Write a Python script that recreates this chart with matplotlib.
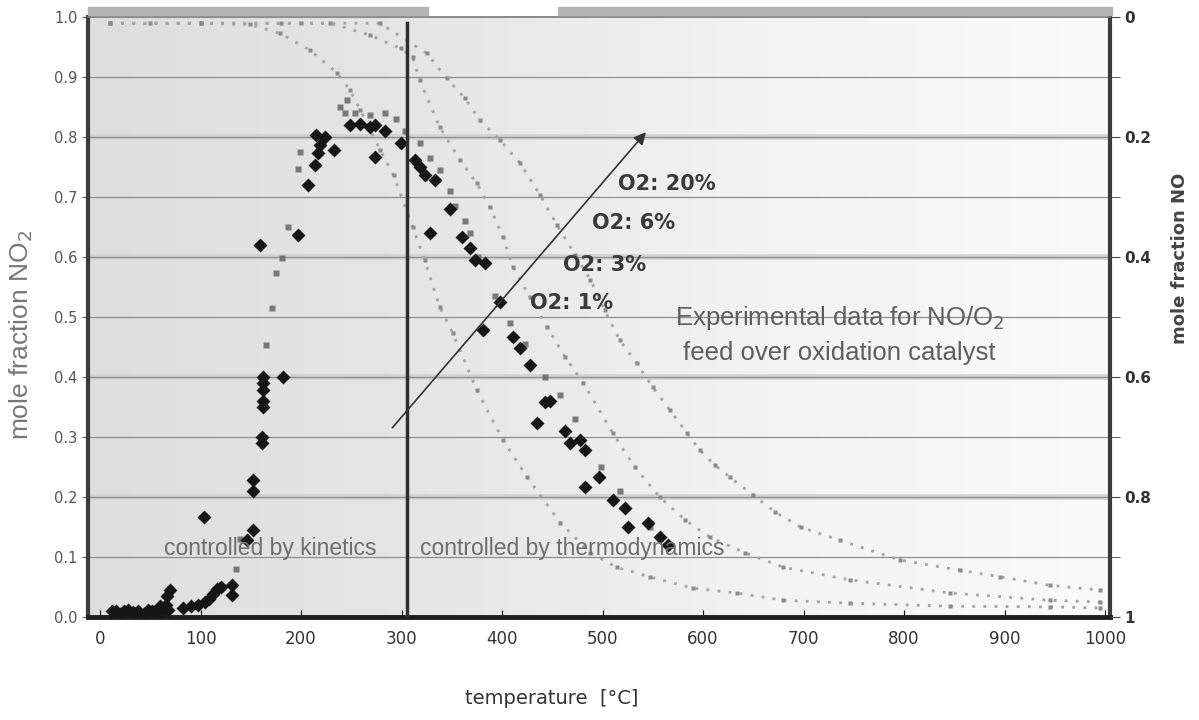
import numpy as np
import matplotlib
matplotlib.use('Agg')
import matplotlib.pyplot as plt
from matplotlib.colors import LinearSegmentedColormap
from matplotlib.patches import Rectangle

# experimental NO2 mole fraction (large black diamonds)
exp_T = [12, 16, 20, 24, 28, 33, 38, 44, 48, 52, 55, 58, 60, 62, 64, 66, 68, 60, 67, 70,
         83, 90, 97, 104, 108, 112, 116, 120, 131, 131,
         103, 146, 152, 152, 152, 161, 161, 162, 162, 162, 162, 162, 182,
         159, 197,
         207, 214, 217, 219, 233, 215, 224,
         249, 259, 269, 284, 274, 274, 299,
         313, 318, 323, 333, 348, 328, 360, 368, 373, 383, 398, 381, 411, 418, 428,
         443, 448, 435, 463, 468, 478, 483, 496, 483, 510, 522, 525, 545, 557, 565]
exp_no2 = [0.01, 0.01, 0.005, 0.01, 0.012, 0.008, 0.01, 0.005, 0.012, 0.01, 0.006, 0.012, 0.018, 0.01, 0.015, 0.02, 0.012, -0.008, 0.035, 0.045,
           0.015, 0.018, 0.02, 0.025, 0.03, 0.038, 0.046, 0.05, 0.053, 0.037,
           0.167, 0.128, 0.145, 0.228, 0.21, 0.29, 0.30, 0.35, 0.36, 0.378, 0.39, 0.40, 0.40,
           0.62, 0.637,
           0.72, 0.753, 0.773, 0.787, 0.778, 0.803, 0.80,
           0.82, 0.822, 0.817, 0.81, 0.82, 0.767, 0.79,
           0.762, 0.75, 0.737, 0.728, 0.68, 0.64, 0.633, 0.615, 0.595, 0.59, 0.525, 0.478, 0.467, 0.448, 0.42,
           0.358, 0.36, 0.323, 0.31, 0.29, 0.295, 0.278, 0.233, 0.217, 0.195, 0.182, 0.15, 0.157, 0.133, 0.12]

# second experimental set (small grey marks)
exp2_T = [135, 139, 165, 171, 175, 181, 187, 197, 199, 239, 244, 246, 254, 269, 284, 294,
          303, 318, 328, 338, 348, 353, 363, 368, 376, 393, 408, 423, 443, 458, 473, 498, 517, 547]
exp2_no2 = [0.08, 0.13, 0.453, 0.515, 0.573, 0.598, 0.65, 0.747, 0.775, 0.85, 0.84, 0.862, 0.84, 0.837, 0.84, 0.83,
            0.81, 0.79, 0.765, 0.745, 0.71, 0.685, 0.66, 0.64, 0.60, 0.535, 0.49, 0.455, 0.40, 0.37, 0.33, 0.25, 0.21, 0.15]

# equilibrium curves (dotted)
eq1_T = [10, 50, 100, 149, 179, 209, 236, 249, 259, 279, 292, 311, 323, 338, 351, 375, 401, 425,
         458, 488, 514, 547, 590, 634, 680, 746, 846, 945, 995]
eq1_no2 = [0.99, 0.99, 0.99, 0.988, 0.973, 0.945, 0.907, 0.878, 0.845, 0.778, 0.737, 0.65, 0.595, 0.517,
           0.473, 0.378, 0.295, 0.233, 0.157, 0.107, 0.083, 0.067, 0.048, 0.04, 0.028, 0.023, 0.018, 0.017, 0.015]
eq2_T = [10, 100, 180, 229, 269, 299, 311, 318, 338, 358, 375, 388, 401, 411, 428, 445, 463, 481,
         510, 532, 557, 582, 607, 642, 680, 746, 846, 945, 995]
eq2_no2 = [0.99, 0.99, 0.99, 0.99, 0.97, 0.948, 0.933, 0.895, 0.817, 0.762, 0.723, 0.683, 0.633, 0.583,
           0.533, 0.483, 0.433, 0.39, 0.307, 0.25, 0.2, 0.162, 0.133, 0.107, 0.083, 0.062, 0.04, 0.028, 0.025]
eq3_T = [10, 100, 200, 279, 325, 345, 363, 378, 398, 418, 438, 455, 473, 488, 502, 517, 534, 550,
         567, 584, 597, 612, 627, 650, 672, 697, 736, 796, 856, 896, 945, 995]
eq3_no2 = [0.99, 0.99, 0.99, 0.99, 0.94, 0.898, 0.865, 0.828, 0.795, 0.757, 0.703, 0.653, 0.603, 0.562,
           0.512, 0.462, 0.423, 0.383, 0.345, 0.307, 0.278, 0.253, 0.233, 0.203, 0.175, 0.15, 0.128, 0.095,
           0.078, 0.067, 0.053, 0.045]

o2_labels = ['O2: 1%', 'O2: 3%', 'O2: 6%', 'O2: 20%']
o2_pos = [(428, 0.523), (461, 0.587), (490, 0.657), (515, 0.722)]

fig = plt.figure(figsize=(11.99, 7.2), dpi=100)
ax = fig.add_axes([0.0734, 0.143, 0.8524, 0.833])

# grey shading of the plot area
cmap = LinearSegmentedColormap.from_list('bg', ['#dedede', '#e6e6e6', '#f3f3f3', '#fafafa'])
ax.imshow(np.linspace(0, 1, 256).reshape(1, -1), cmap=cmap, extent=(0, 1, 0, 1),
          transform=ax.transAxes, aspect='auto', zorder=0)

for g in np.arange(0.1, 1.0, 0.1):
    if round(g * 10) % 2 == 0:
        ax.axhline(g, color='#d2d2d2', lw=4, zorder=1)
    ax.axhline(g, color='#8e8e8e', lw=0.9, zorder=1)

for T, y in [(eq1_T, eq1_no2), (eq2_T, eq2_no2), (eq3_T, eq3_no2)]:
    ax.plot(T, y, color='#a2a2a2', lw=2.0, ls=(0, (1, 3)), marker='s', ms=2.5,
            mec='none', mfc='#8a8a8a', zorder=2)

ax.plot(exp2_T, exp2_no2, ls='none', marker='s', ms=4, color='#666666', mec='none', alpha=0.85, zorder=3)
ax.plot(exp_T, exp_no2, ls='none', marker='D', ms=7, color='#161616', mec='none', zorder=4)

ax.plot([305, 305], [0, 0.99], color='#2e2e2e', lw=2.5, zorder=5)
ax.annotate('', xy=(545, 0.812), xytext=(289, 0.312),
            arrowprops=dict(arrowstyle='-|>', color='#333333', lw=1.2, mutation_scale=18), zorder=5)

for lab, (x, y) in zip(o2_labels, o2_pos):
    ax.text(x, y, lab, fontsize=15, fontweight='bold', color='#3a3a3a', va='center', ha='left', zorder=6)

ax.text(736, 0.498, 'Experimental data for NO/O$_2$', fontsize=18.5, color='#5e5e5e',
        ha='center', va='center', family='Liberation Sans')
ax.text(736, 0.440, 'feed over oxidation catalyst', fontsize=18.5, color='#5e5e5e',
        ha='center', va='center', family='Liberation Sans')
ax.text(169, 0.115, 'controlled by kinetics', fontsize=16.5, color='#6e6e6e',
        ha='center', va='center', family='Liberation Sans', zorder=6)
ax.text(470, 0.115, 'controlled by thermodynamics', fontsize=16.5, color='#6e6e6e',
        ha='center', va='center', family='Liberation Sans', zorder=6)

ax.set_xlim(-12, 1005)
ax.set_ylim(0, 1)
ax.set_xticks(range(0, 1001, 100))
ax.set_yticks(np.round(np.arange(0, 1.01, 0.1), 1))
ax.set_yticklabels(['%.1f' % v for v in np.arange(0, 1.01, 0.1)])
ax.tick_params(axis='x', direction='in', length=5, labelsize=12, labelcolor='#333333', pad=9)
ax.tick_params(axis='y', direction='out', length=4, labelsize=10.5, labelcolor='#555555', color='#555555')

for s in ['left', 'right']:
    ax.spines[s].set_color('#3c3c3c')
    ax.spines[s].set_linewidth(3)
ax.spines['bottom'].set_color('#1e1e1e')
ax.spines['bottom'].set_linewidth(3.5)
ax.spines['top'].set_color('#777777')
ax.spines['top'].set_linewidth(1.2)

ax.set_xlabel('temperature  [°C]', fontsize=14, color='#333333')
ax.xaxis.set_label_coords(0.454, -0.12)
ax.set_ylabel('mole fraction NO$_2$', fontsize=19, color='#777777',
              family='Liberation Sans')
ax.yaxis.set_label_coords(-0.052, 0.47)

ax2 = ax.twinx()
ax2.set_ylim(1, 0)
ax2.set_yticks([0, 0.2, 0.4, 0.6, 0.8, 1.0])
ax2.set_yticklabels(['0', '0.2', '0.4', '0.6', '0.8', '1'])
ax2.set_yticks(np.arange(0.1, 1.0, 0.2), minor=True)
ax2.tick_params(axis='y', which='both', direction='out', length=7, labelsize=11,
                labelcolor='#333333', color='#444444')
for lbl in ax2.get_yticklabels():
    lbl.set_fontweight('bold')
for s in ax2.spines.values():
    s.set_visible(False)

fig.text(1180 / 1199, 1 - 258 / 720, 'mole fraction NO', rotation=90, fontsize=13,
         fontweight='bold', color='#444444', ha='center', va='center')

# grey band above the frame
fig.patches.append(Rectangle((88 / 1199, 1 - 15 / 720), (428 - 88) / 1199, 8 / 720,
                             transform=fig.transFigure, color='#b4b4b4', zorder=0))
fig.patches.append(Rectangle((558 / 1199, 1 - 15 / 720), (1112 - 558) / 1199, 8 / 720,
                             transform=fig.transFigure, color='#b4b4b4', zorder=0))

fig.savefig('out.png', dpi=100)
